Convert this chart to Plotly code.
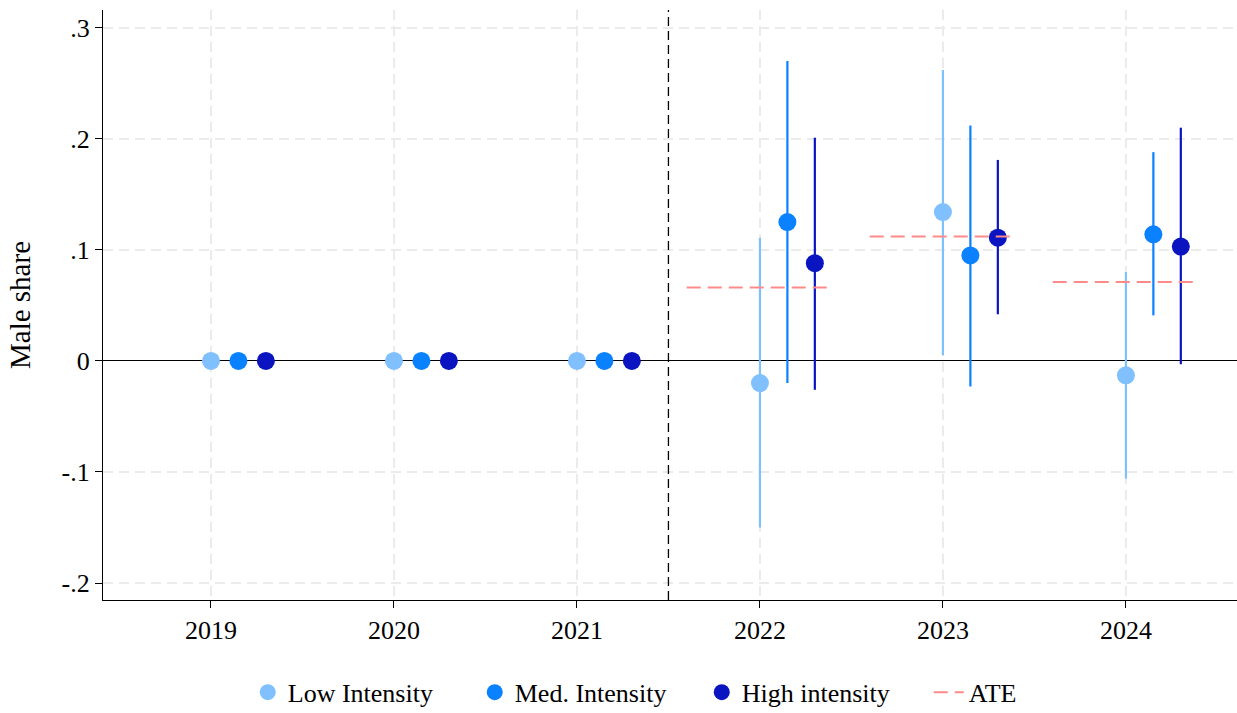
import plotly.graph_objects as go

years = [2019, 2020, 2021, 2022, 2023, 2024]
tick_labels = ["2019", "2020", "2021", "2022", "2023", "2024"]

low_est = [0.0, 0.0, 0.0, -0.020, 0.134, -0.013]
low_lo = [0.0, 0.0, 0.0, -0.150, 0.005, -0.106]
low_hi = [0.0, 0.0, 0.0, 0.111, 0.262, 0.080]

med_est = [0.0, 0.0, 0.0, 0.125, 0.095, 0.114]
med_lo = [0.0, 0.0, 0.0, -0.020, -0.023, 0.041]
med_hi = [0.0, 0.0, 0.0, 0.270, 0.212, 0.188]

high_est = [0.0, 0.0, 0.0, 0.088, 0.111, 0.103]
high_lo = [0.0, 0.0, 0.0, -0.026, 0.042, -0.003]
high_hi = [0.0, 0.0, 0.0, 0.201, 0.181, 0.210]

ate_years = [2022, 2023, 2024]
ate_values = [0.066, 0.112, 0.071]

series = [
    ("Low Intensity", low_est, low_lo, low_hi, 0.0, "#80c0ff"),
    ("Med. Intensity", med_est, med_lo, med_hi, 0.15, "#0a82ff"),
    ("High intensity", high_est, high_lo, high_hi, 0.30, "#0a14c0"),
]

font_family = "Liberation Serif"
fig = go.Figure()

for name, est, lo, hi, offset, color in series:
    xs = [y + offset for y in years]
    fig.add_trace(go.Scatter(
        x=xs, y=est, mode="markers", name=name,
        marker=dict(color=color, size=18, line=dict(width=0)),
        error_y=dict(type="data", symmetric=False,
                     array=[h - e for h, e in zip(hi, est)],
                     arrayminus=[e - l for e, l in zip(est, lo)],
                     color=color, thickness=2.2, width=0),
    ))

# ATE segments spanning each post-period year
half = 0.4
for i, (yr, v) in enumerate(zip(ate_years, ate_values)):
    fig.add_trace(go.Scatter(
        x=[yr - half, yr + half], y=[v, v], mode="lines", name="ATE",
        line=dict(color="#ff8a8a", width=2, dash="14px,7px"),
        showlegend=(i == 0), legendgroup="ate",
    ))

fig.add_vline(x=2021.5, line=dict(color="black", width=1.3, dash="9px,5px"))

fig.update_layout(
    width=1237, height=713,
    margin=dict(l=103, r=0, t=10, b=113, autoexpand=False),
    plot_bgcolor="white", paper_bgcolor="white",
    font=dict(family=font_family, size=26, color="black"),
    showlegend=True,
    legend=dict(orientation="h", x=0.528, xanchor="center",
                yref="container", y=0.062, yanchor="top",
                font=dict(family=font_family, size=26), itemwidth=30,
                entrywidth=182, entrywidthmode="pixels",
                traceorder="normal"),
    xaxis=dict(
        range=[2018.41, 2024.607], tickmode="array", tickvals=years, ticktext=tick_labels,
        showgrid=True, gridcolor="#ebebeb", griddash="10px,6px", gridwidth=1.5,
        showline=True, linecolor="black", linewidth=1.3,
        ticks="outside", ticklen=7, tickcolor="black", zeroline=False,
        tickfont=dict(family=font_family, size=26),
    ),
    yaxis=dict(
        range=[-0.2153, 0.316], tickmode="array",
        tickvals=[-0.2, -0.1, 0, 0.1, 0.2, 0.3],
        ticktext=["-.2", "-.1", "0", ".1", ".2", ".3"],
        showgrid=True, gridcolor="#ebebeb", griddash="10px,6px", gridwidth=1.5,
        showline=True, linecolor="black", linewidth=1.3,
        ticks="outside", ticklen=7, tickcolor="black",
        zeroline=True, zerolinecolor="black", zerolinewidth=1.3,
        title=dict(text="Male share", font=dict(family=font_family, size=29), standoff=22),
        tickfont=dict(family=font_family, size=26),
    ),
)

fig.write_html("out.html")
